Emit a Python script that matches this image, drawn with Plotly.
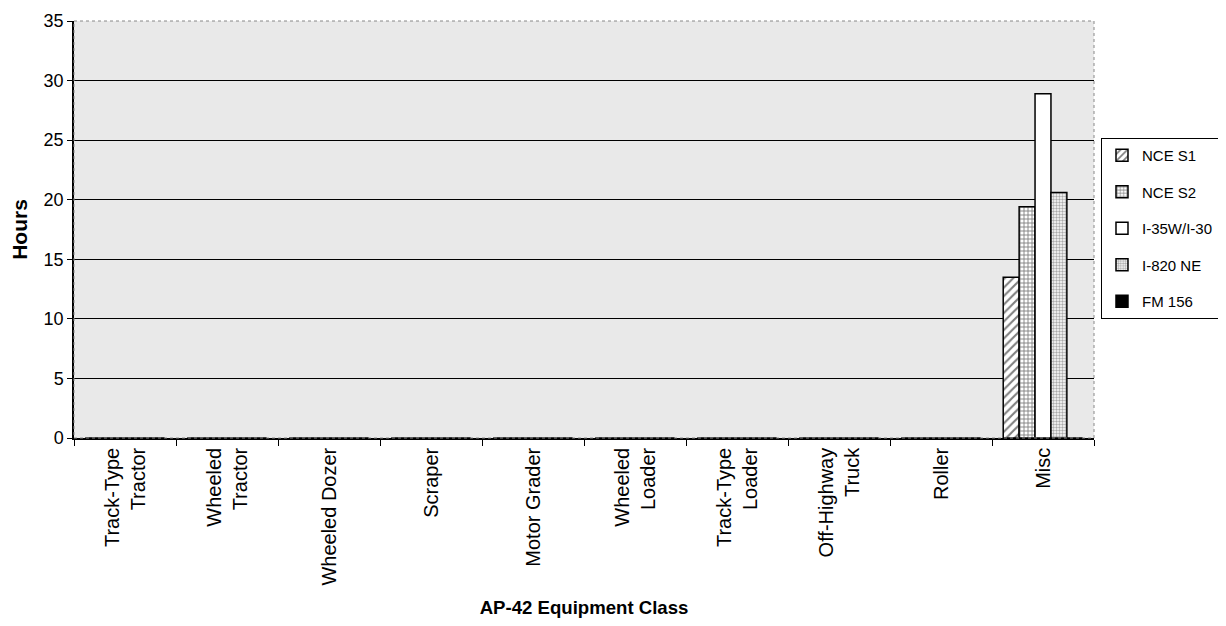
import plotly.graph_objects as go

categories = [
    "Track-Type<br>Tractor", "Wheeled<br>Tractor", "Wheeled Dozer", "Scraper",
    "Motor Grader", "Wheeled<br>Loader", "Track-Type<br>Loader",
    "Off-Highway<br>Truck", "Roller", "Misc",
]
nce_s1 = [0, 0, 0, 0, 0, 0, 0, 0, 0, 13.5]
nce_s2 = [0, 0, 0, 0, 0, 0, 0, 0, 0, 19.4]
i35w_i30 = [0, 0, 0, 0, 0, 0, 0, 0, 0, 28.9]
i820_ne = [0, 0, 0, 0, 0, 0, 0, 0, 0, 20.6]
fm156 = [0, 0, 0, 0, 0, 0, 0, 0, 0, 0]

series = [
    ("NCE S1", nce_s1, dict(shape="/", fgcolor="black", bgcolor="white", size=6, solidity=0.35)),
    ("NCE S2", nce_s2, dict(shape="+", fgcolor="black", bgcolor="white", size=4, solidity=0.4)),
    ("I-35W/I-30", i35w_i30, None),
    ("I-820 NE", i820_ne, dict(shape=".", fgcolor="#555555", bgcolor="white", size=3, solidity=0.5)),
    ("FM 156", fm156, None),
]
fills = {"I-35W/I-30": "white", "FM 156": "black"}

fig = go.Figure()

for name, vals, pat in series:
    marker = dict(color=fills.get(name, "white"), line=dict(color="black", width=1.5))
    if pat:
        marker["pattern"] = pat
    fig.add_trace(
        go.Bar(
            x=categories,
            y=vals,
            name=name,
            legendgroup=name,
            marker=marker,
        )
    )

# dotted grey frame on top/right of the plot area
fig.add_shape(
    type="rect", xref="paper", yref="paper", x0=0, y0=0, x1=1, y1=1,
    line=dict(color="#888888", width=1, dash="dot"), layer="above",
)

# page has an 8px body margin, so the figure is a bit smaller than the window
fig.update_layout(
    width=1210,
    height=610,
    margin=dict(l=66, r=124, t=13, b=180),
    paper_bgcolor="white",
    plot_bgcolor="#e9e9e9",
    barmode="group",
    bargap=0.22,
    bargroupgap=0,
    font=dict(family="Arial", color="black", size=16),
    showlegend=True,
    legend=dict(
        xref="container", yref="container",
        x=0.9033, y=0.787, xanchor="left", yanchor="top",
        bgcolor="white", bordercolor="black", borderwidth=1,
        font=dict(family="Arial", size=15),
        tracegroupgap=14,
        itemwidth=30,
    ),
)

fig.update_xaxes(
    automargin=False,
    tickangle=-90,
    ticks="outside",
    tickson="boundaries",
    ticklen=6,
    tickcolor="black",
    showline=True,
    linecolor="black",
    linewidth=1.5,
    mirror=False,
    tickfont=dict(family="Arial", size=20),
    title=dict(text="<b>AP-42 Equipment Class</b>", font=dict(family="Arial", size=18.6), standoff=25),
)

fig.update_yaxes(
    automargin=False,
    range=[0, 35],
    dtick=5,
    ticks="outside",
    ticklen=5,
    tickcolor="black",
    showline=True,
    linecolor="black",
    linewidth=1.5,
    showgrid=True,
    gridcolor="black",
    gridwidth=1,
    zeroline=False,
    tickfont=dict(family="Arial", size=18),
    title=dict(text="<b>Hours</b>", font=dict(family="Arial", size=21), standoff=10),
)

fig.write_html("out.html")
